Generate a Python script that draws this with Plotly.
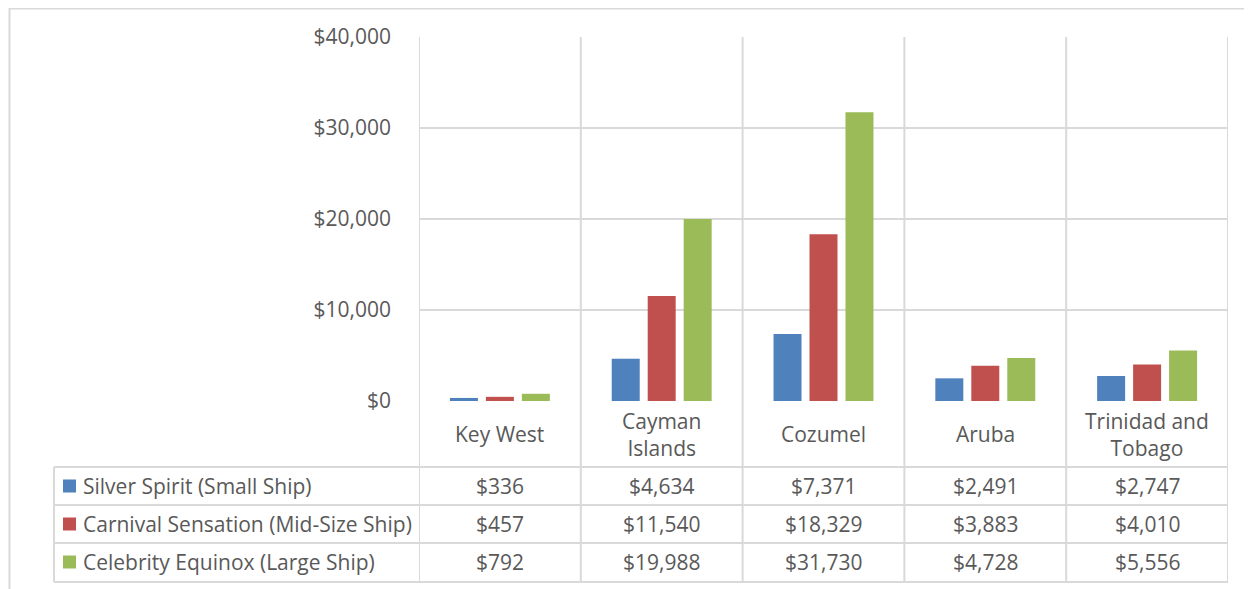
import plotly.graph_objects as go

# ---- data ----
categories = ["Key West", "Cayman Islands", "Cozumel", "Aruba", "Trinidad and Tobago"]
category_labels = ["Key West", "Cayman<br>Islands", "Cozumel", "Aruba", "Trinidad and<br>Tobago"]
series_names = ["Silver Spirit (Small Ship)",
                "Carnival Sensation (Mid-Size Ship)",
                "Celebrity Equinox (Large Ship)"]
silver_spirit = [336, 4634, 7371, 2491, 2747]
carnival_sensation = [457, 11540, 18329, 3883, 4010]
celebrity_equinox = [792, 19988, 31730, 4728, 5556]
series_values = [silver_spirit, carnival_sensation, celebrity_equinox]
y_ticks = [0, 10000, 20000, 30000, 40000]

# ---- styling / layout ----
W, H = 1252, 589
OFF = 8  # page body margin offset
colors = ["#4F81BD", "#C0504D", "#9BBB59"]
grid = "#d9d9d9"
txt = "#595959"
FONT = "Open Sans"
FS = 21

def px(x):
    return (x - OFF) / W

def py(y):
    return 1 - (y - OFF) / H

plot_left, plot_right = 419, 1228
plot_top, plot_bottom = 37, 401
table_left = 54
row_lines = [467, 505, 543, 582]
row_centers = [486, 524, 562]

fig = go.Figure()
for name, vals, c in zip(series_names, series_values, colors):
    fig.add_trace(go.Bar(x=categories, y=vals, name=name, marker_color=c,
                         marker_line_width=0, showlegend=False))

shapes = []
# outer chart border
shapes.append(dict(type="rect", xref="paper", yref="paper",
                   x0=px(9.5), x1=px(1265), y0=py(610), y1=py(8.5),
                   line=dict(color=grid, width=2), layer="below"))
# category boundary lines
for i in range(len(categories) + 1):
    shapes.append(dict(type="line", xref="x", yref="paper",
                       x0=i - 0.5, x1=i - 0.5, y0=py(row_lines[-1]), y1=py(plot_top),
                       line=dict(color=grid, width=2), layer="below"))
# table left border
shapes.append(dict(type="line", xref="paper", yref="paper",
                   x0=px(table_left), x1=px(table_left),
                   y0=py(row_lines[-1]), y1=py(row_lines[0]),
                   line=dict(color=grid, width=2)))
# table horizontal lines
for yl in row_lines:
    shapes.append(dict(type="line", xref="paper", yref="paper",
                       x0=px(table_left), x1=px(plot_right),
                       y0=py(yl), y1=py(yl),
                       line=dict(color=grid, width=2)))
# legend keys
for yc, c in zip(row_centers, colors):
    shapes.append(dict(type="rect", xref="paper", yref="paper",
                       x0=px(63), x1=px(76), y0=py(yc + 6.5), y1=py(yc - 6.5),
                       fillcolor=c, line=dict(width=0)))

annotations = []
for cat, lab in zip(categories, category_labels):
    annotations.append(dict(x=cat, xref="x", y=py(434), yref="paper",
                            text=lab, showarrow=False, xanchor="center", yanchor="middle",
                            font=dict(family=FONT, size=FS, color=txt)))
for name, vals, yc in zip(series_names, series_values, row_centers):
    annotations.append(dict(x=px(81), xref="paper", y=py(yc), yref="paper",
                            text=name, showarrow=False, xanchor="left", yanchor="middle",
                            font=dict(family=FONT, size=FS, color=txt)))
    for cat, v in zip(categories, vals):
        annotations.append(dict(x=cat, xref="x", y=py(yc), yref="paper",
                                text="${:,}".format(v), showarrow=False,
                                xanchor="center", yanchor="middle",
                                font=dict(family=FONT, size=FS, color=txt)))

fig.update_layout(
    width=W, height=H, autosize=False,
    margin=dict(l=0, r=0, t=0, b=0, pad=0, autoexpand=False),
    paper_bgcolor="white", plot_bgcolor="white",
    barmode="group", bargap=0.333, bargroupgap=0.222,
    font=dict(family=FONT, size=FS, color=txt),
    xaxis=dict(domain=[px(plot_left), px(plot_right)], showticklabels=False,
               showgrid=False, zeroline=False, showline=False, ticks="",
               range=[-0.5, len(categories) - 0.5], fixedrange=True),
    yaxis=dict(domain=[py(plot_bottom), py(plot_top)], range=[0, 40000],
               tickvals=y_ticks, ticktext=["${:,}".format(v) for v in y_ticks],
               showgrid=True, gridcolor=grid, gridwidth=2, zeroline=False,
               showline=False, ticks="", ticklabelstandoff=27,
               tickfont=dict(family=FONT, size=FS, color=txt)),
    shapes=shapes, annotations=annotations,
)

fig.write_html("out.html")
